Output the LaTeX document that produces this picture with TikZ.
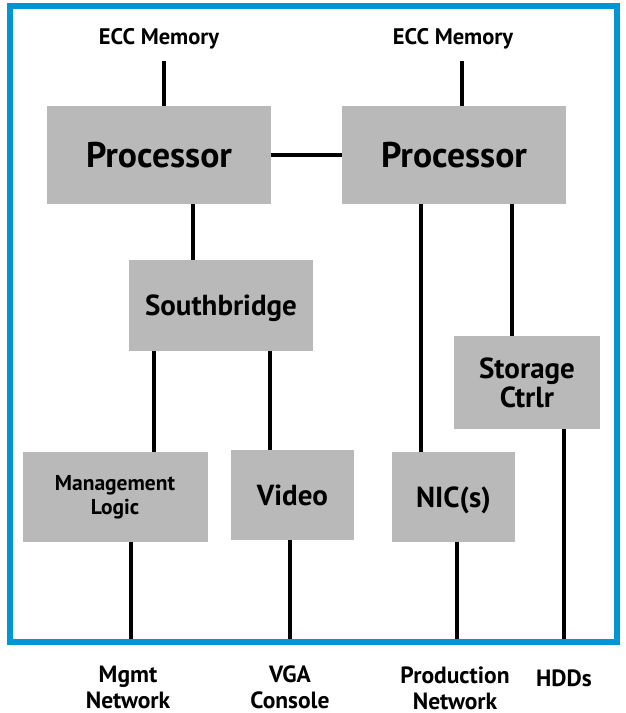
\documentclass[tikz,border=0pt]{standalone}
\usepackage{fontspec}
\setmainfont{PT Sans}
\definecolor{hpblue}{RGB}{0,150,214}
\definecolor{boxgray}{RGB}{185,185,186}
\tikzset{
  box/.style={fill=boxgray, inner sep=0pt, align=center},
  wire/.style={line width=4pt, black},
  frame/.style={line width=6pt, hpblue},
  lbl/.style={inner sep=0pt, align=center},
  fbig/.style={font=\fontsize{35.7}{40}\selectfont\bfseries, text height=25pt, text depth=0pt},
  fmid/.style={font=\fontsize{29}{29}\selectfont\bfseries},
  fmidone/.style={font=\fontsize{29}{29}\selectfont\bfseries, text height=20.3pt, text depth=0pt},
  fsmall/.style={font=\fontsize{21.5}{24}\selectfont\bfseries},
  fecc/.style={font=\fontsize{22.5}{26}\selectfont\bfseries, text height=15.75pt, text depth=0pt},
  fbot/.style={font=\fontsize{23.5}{26}\selectfont\bfseries},
  fbotone/.style={font=\fontsize{23.5}{26}\selectfont\bfseries, text height=16.5pt, text depth=0pt},
}
\begin{document}
\begin{tikzpicture}[x=1pt,y=-1pt]
\useasboundingbox (0,0) rectangle (625,713);

% boxes
\node[box, fbig, minimum width=224pt, minimum height=98pt] (procL) at (159,155) {Processor};
\node[box, fbig, minimum width=224pt, minimum height=98pt] (procR) at (454,155) {Processor};
\node[box, fmidone, minimum width=184pt, minimum height=91pt] (sb) at (221,305.5) {Southbridge};
\node[box, fmid, minimum width=146pt, minimum height=93pt] (stor) at (527,382.5) {Storage\\Ctrlr};
\node[box, fsmall, minimum width=185pt, minimum height=90pt] (mgmt) at (115,497) {Management\\Logic};
\node[box, fmidone, minimum width=123pt, minimum height=90pt] (video) at (292.5,495) {Video};
\node[box, fmidone, minimum width=123pt, minimum height=90pt] (nic) at (453.5,497) {NIC(s)};

% top labels
\node[lbl, fecc] (eccL) at (159,37) {ECC Memory};
\node[lbl, fecc] (eccR) at (453,37) {ECC Memory};

% bottom labels
\node[lbl, fbot] (mgmtnet) at (128,687) {Mgmt\\Network};
\node[lbl, fbot] (vga) at (290,687) {VGA\\Console};
\node[lbl, fbot] (prodnet) at (455,688.5) {Production\\Network};
\node[lbl, fbotone] (hdds) at (564,678.5) {HDDs};

% helper coordinates
\coordinate (memL) at (164,61);
\coordinate (memR) at (462,61);
\coordinate (fb) at (0,642);
\coordinate (xa) at (193,0);
\coordinate (xb) at (154,0);
\coordinate (xc) at (270,0);
\coordinate (xd) at (421,0);
\coordinate (xe) at (512,0);
\coordinate (xf) at (131,0);
\coordinate (xg) at (290,0);
\coordinate (xh) at (457,0);
\coordinate (xi) at (564,0);

% connectors
\draw[wire] (memL) -- (memL |- procL.north);
\draw[wire] (memR) -- (memR |- procR.north);
\draw[wire] (procL.east) -- (procR.west);
\draw[wire] (procL.south -| xa) -- (sb.north -| xa);
\draw[wire] (sb.south -| xb) -- (mgmt.north -| xb);
\draw[wire] (sb.south -| xc) -- (video.north -| xc);
\draw[wire] (procR.south -| xd) -- (nic.north -| xd);
\draw[wire] (procR.south -| xe) -- (stor.north -| xe);
\draw[wire] (mgmt.south -| xf) -- (fb -| xf);
\draw[wire] (video.south -| xg) -- (fb -| xg);
\draw[wire] (nic.south -| xh) -- (fb -| xh);
\draw[wire] (stor.south -| xi) -- (fb -| xi);

% frame
\draw[frame] (10,6) rectangle (617,642);
\end{tikzpicture}
\end{document}
